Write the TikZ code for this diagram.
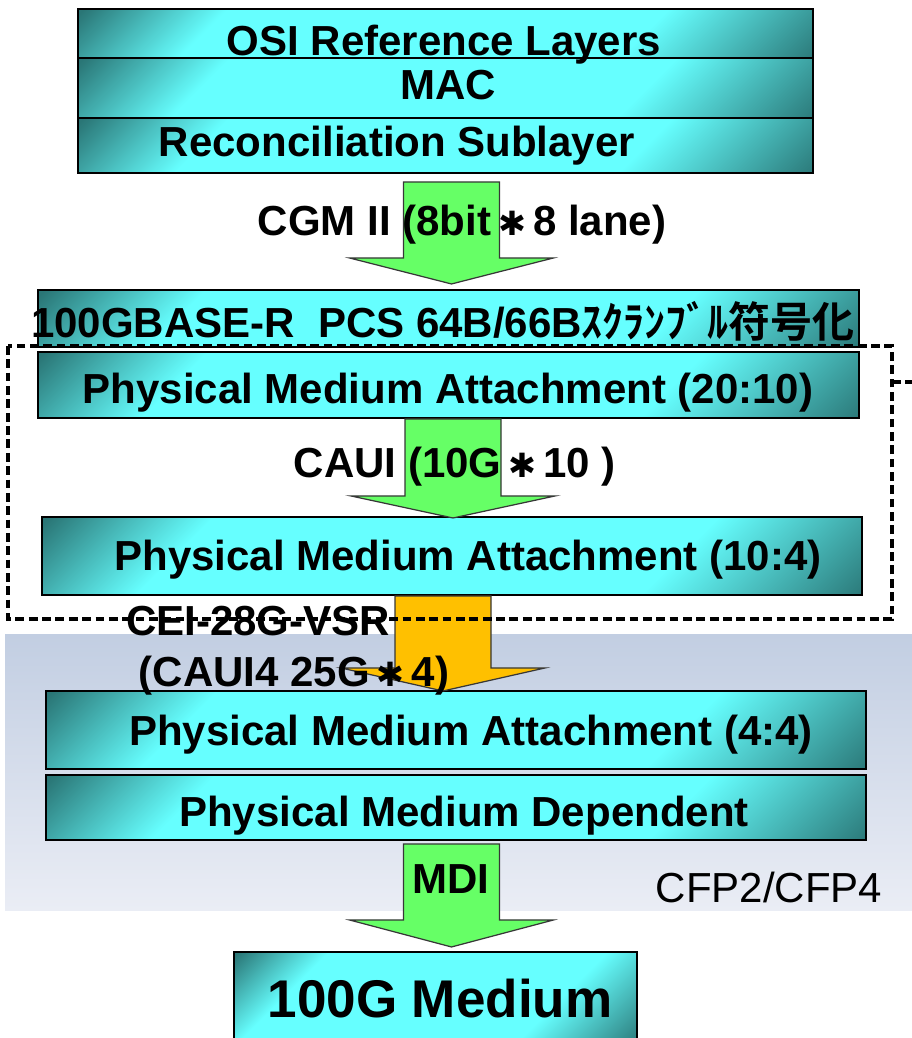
\documentclass[tikz,border=0pt]{standalone}
\usepackage{fontspec}
\setmainfont{Liberation Sans}
\newfontfamily\jafont{Noto Sans CJK JP}[BoldFont={Noto Sans CJK JP Bold}]
\newfontfamily\symfont{DejaVu Sans}
\usetikzlibrary{calc,fit}

\newcommand{\layerfont}{\bfseries\fontsize{23.9}{28}\selectfont}
\newcommand{\laneast}{\makebox[1em]{\symfont\fontsize{19}{19}\selectfont ✱}}

\begin{document}
\begin{tikzpicture}[x=0.02cm,y=-0.02cm]
% Define layer colours
\definecolor{layercyan}{RGB}{102,255,255}
\definecolor{layerteal}{RGB}{42,118,118}
\definecolor{mdigreen}{RGB}{102,255,102}
\definecolor{vsrorange}{RGB}{255,192,0}
\definecolor{cfptop}{RGB}{194,206,226}
\definecolor{cfpbottom}{RGB}{234,237,245}
\definecolor{edgegray}{RGB}{55,55,55}
\pgfdeclarehorizontalshading{layershade}{100bp}{color(0bp)=(layerteal); color(15bp)=(layerteal); color(28bp)=(layercyan); color(68bp)=(layercyan); color(86bp)=(layerteal); color(100bp)=(layerteal)}

\tikzset{
  layer/.style={draw=black, line width=1.1pt, shade, shading=layershade, shading angle=-45, inner sep=0pt},
  lbl/.style={anchor=base, inner sep=0pt, font=\layerfont},
  fence/.style={line width=2.2pt, dash pattern=on 5pt off 2.6pt},
  pics/blockarrow/.style 2 args={code={
    \draw[pic actions] (-48,0) -- (-48,#1-#2) -- (-102,#1-#2) -- (0,#1) -- (102,#1-#2) -- (48,#1-#2) -- (48,0) -- cycle;
  }},
}

\useasboundingbox (0,0) rectangle (912,1038);

% CFP module area
\fill[top color=cfptop, bottom color=cfpbottom] (5,634) rectangle (912,910);

% Draw layers
\node[layer, fit={(78,9) (813,58)}] (osi) {};
\node[layer, fit={(78,58) (813,118)}] (mac) {};
\node[layer, fit={(78,118) (813,173)}] (rs) {};
\node[layer, fit={(38,290) (859,347)}] (pcs) {};
\node[layer, fit={(38,352) (859,418)}] (pma20) {};
\node[layer, fit={(42,517) (862,595)}] (pma10) {};
\node[layer, fit={(46,691) (866,769)}] (pma4) {};
\node[layer, fit={(46,775) (866,840)}] (pmd) {};
\node[layer, fit={(234,952) (637,1045)}] (medium) {};

% Draw arrows
\pic[fill=mdigreen, draw=edgegray, line width=0.7pt] (cgmii) at ($(rs.south)+(6,8)$) {blockarrow={102}{26}};
\pic[fill=mdigreen, draw=edgegray, line width=0.7pt] (caui) at ($(pma20.south)+(4.5,0)$) {blockarrow={99}{22}};
\pic[fill=vsrorange, draw=edgegray, line width=0.7pt] (vsr) at ($(pma10.south)+(-9,0)$) {blockarrow={95}{23}};
\pic[fill=mdigreen, draw=edgegray, line width=0.7pt] (mdi) at ($(pmd.south)+(-4.5,3)$) {blockarrow={103}{27}};

% Dashed boundary
\draw[fence] (8,346) rectangle (892,619);
\coordinate (fenceout) at (912,382);
\draw[fence] (892,382) -- (fenceout);

% Add labels
\node[lbl] (osi-t) at (444,55) {OSI Reference Layers};
\node[lbl] (mac-t) at (448,99) {MAC};
\node[lbl] (rs-t) at (397,156) {Reconciliation Sublayer};
\node[lbl] (cgmii-t) at (462,235) {CGM II (8bit\laneast8 lane)};
\node[lbl] (pcs-t) at (443,337) {100GBASE-R\ \ PCS 64B/66B{\jafont ｽｸﾗﾝﾌﾞﾙ符号化}};
\node[lbl] (pma20-t) at (448,403) {Physical Medium Attachment (20:10)};
\node[lbl] (caui-t) at (455,477) {CAUI (10G\laneast10 )};
\node[lbl] (pma10-t) at (468,570) {Physical Medium Attachment (10:4)};
\node[lbl] (vsr-t) at (258,635) {CEI-28G-VSR};
\node[lbl] (caui4-t) at (294,686) {(CAUI4 25G\laneast4)};
\node[lbl] (pma4-t) at (471,745) {Physical Medium Attachment (4:4)};
\node[lbl] (pmd-t) at (464,826) {Physical Medium Dependent};
\node[lbl] (mdi-t) at (451,893) {MDI};
\node[lbl, font=\fontsize{23.9}{28}\selectfont] (cfp-t) at (769,902) {CFP2/CFP4};
\node[lbl, font=\bfseries\fontsize{30.2}{34}\selectfont] (medium-t) at (440,1017) {100G Medium};
\end{tikzpicture}
\end{document}
